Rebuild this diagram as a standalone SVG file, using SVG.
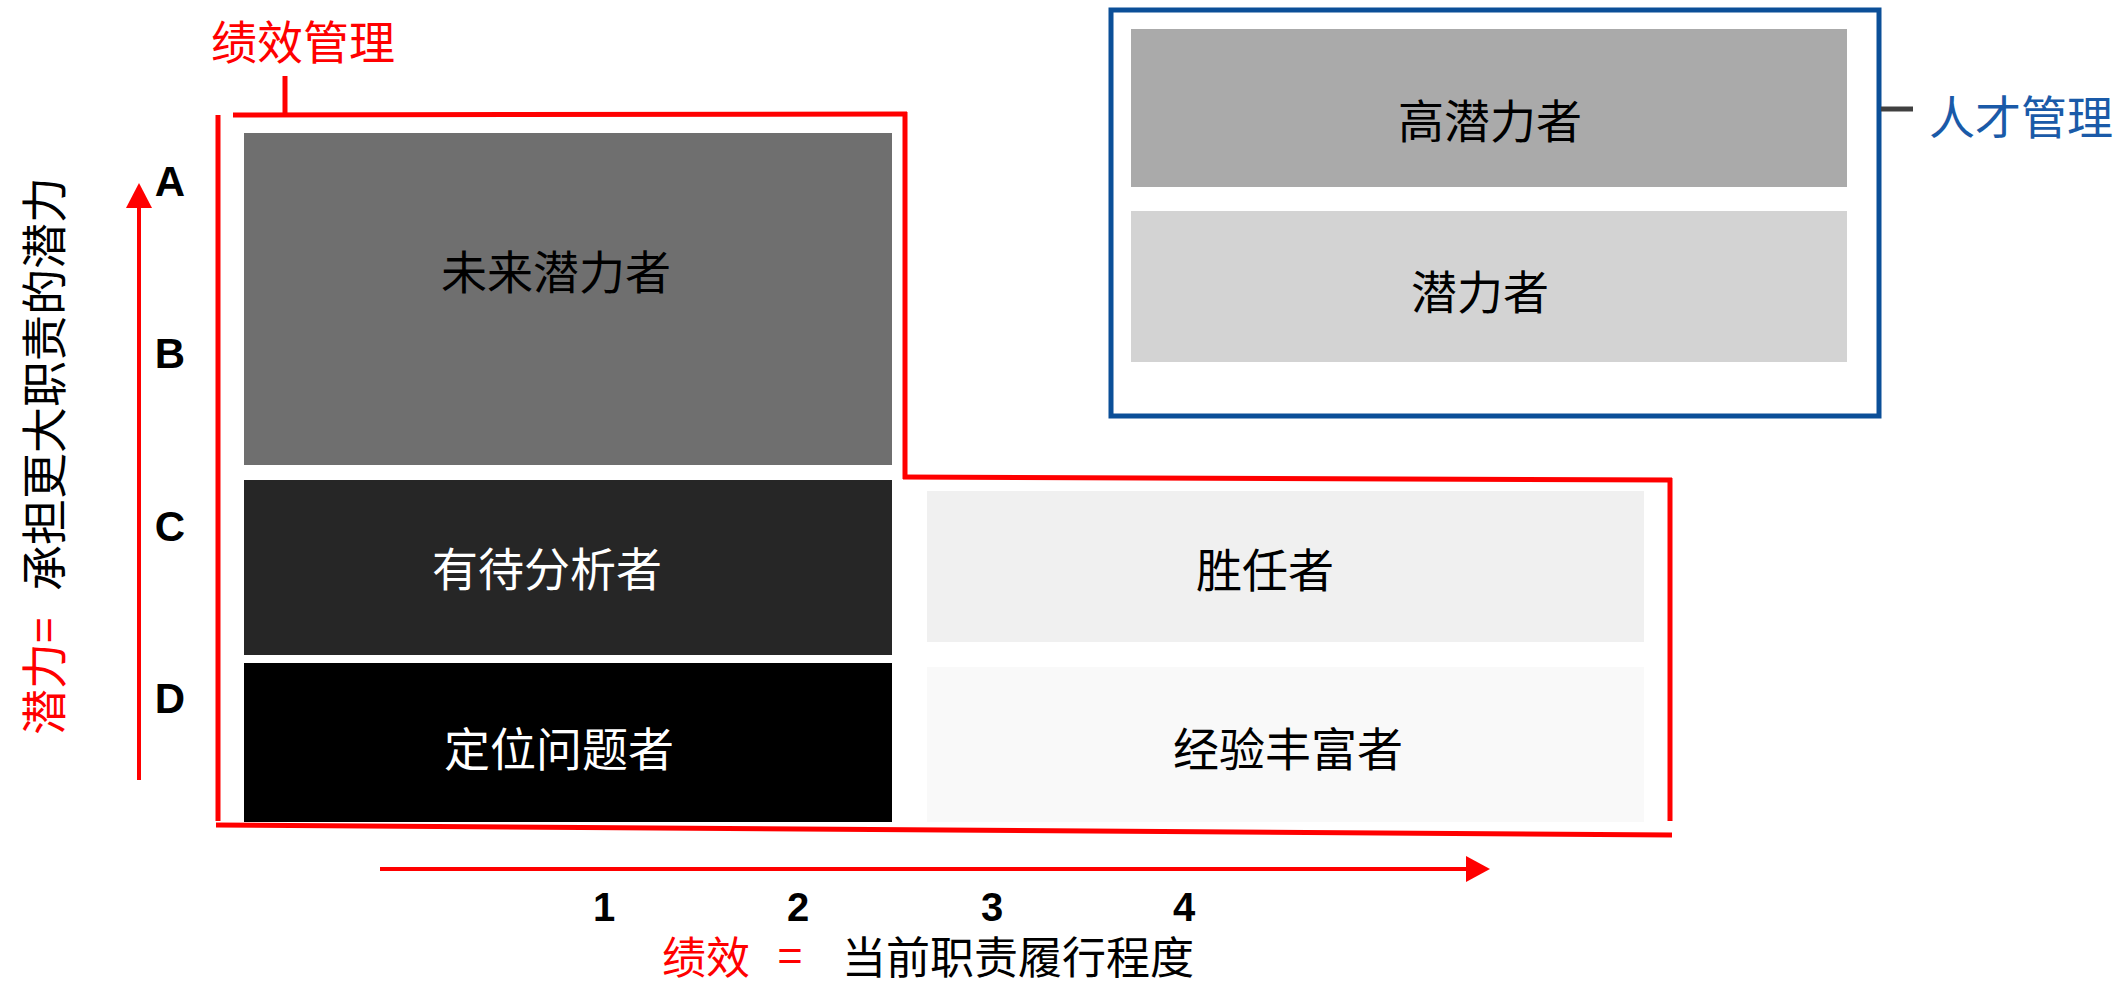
<svg xmlns="http://www.w3.org/2000/svg" width="2121" height="987" viewBox="0 0 2121 987">
<style>
.cjk{font-family:"Noto Sans CJK SC","Noto Sans",sans-serif;font-size:46px;dominant-baseline:central;text-anchor:middle}
.ax{font-size:44px}
.lbl{font-family:"Liberation Sans",Arial,sans-serif;font-weight:bold;font-size:42px;dominant-baseline:central;text-anchor:middle;fill:#000}
.num{font-size:40px}
.red{fill:#ff0000}
.blk{fill:#000}
.wht{fill:#fff}
.rl{stroke:#ff0000;stroke-width:5;fill:none}
</style>

<g id="frame-performance">
<line class="rl" x1="233" y1="115" x2="907" y2="114"/>
<line class="rl" x1="905" y1="112" x2="905" y2="479"/>
<line class="rl" x1="903" y1="477" x2="1672" y2="480"/>
<line class="rl" x1="1670" y1="478" x2="1670" y2="821"/>
<line class="rl" x1="218" y1="115" x2="218" y2="821"/>
<line class="rl" x1="216" y1="825" x2="1672" y2="835"/>
<line class="rl" x1="285" y1="76" x2="285" y2="115"/>
<text class="cjk red" x="303" y="39">绩效管理</text>
</g>

<g id="frame-talent">
<rect x="1111" y="10" width="768" height="406" fill="none" stroke="#0b4f98" stroke-width="5"/>
<line x1="1881" y1="109" x2="1913" y2="109" stroke="#404040" stroke-width="5"/>
<text class="cjk" x="2021" y="114" fill="#1a5aa8">人才管理</text>
</g>

<g id="node-future">
<rect x="244" y="133" width="648" height="332" fill="#6f6f6f"/>
<text class="cjk blk" x="556" y="269">未来潜力者</text>
</g>
<g id="node-analyze">
<rect x="244" y="480" width="648" height="175" fill="#262626"/>
<text class="cjk wht" x="547" y="566">有待分析者</text>
</g>
<g id="node-position">
<rect x="244" y="663" width="648" height="159" fill="#000000"/>
<text class="cjk wht" x="559" y="746">定位问题者</text>
</g>
<g id="node-competent">
<rect x="927" y="491" width="717" height="151" fill="#f0f0f0"/>
<text class="cjk blk" x="1265" y="567">胜任者</text>
</g>
<g id="node-experienced">
<rect x="927" y="667" width="717" height="155" fill="#f9f9f9"/>
<text class="cjk blk" x="1288" y="746">经验丰富者</text>
</g>
<g id="node-high">
<rect x="1131" y="29" width="716" height="158" fill="#aaaaaa"/>
<text class="cjk blk" x="1490" y="118">高潜力者</text>
</g>
<g id="node-potential">
<rect x="1131" y="211" width="716" height="151" fill="#d3d3d3"/>
<text class="cjk blk" x="1480" y="289">潜力者</text>
</g>

<g id="connectors">
<line x1="139" y1="780" x2="139" y2="206" stroke="#ff0000" stroke-width="4"/>
<path d="M139,183 L152,208 L126,208 Z" fill="#ff0000"/>
<line x1="380" y1="869" x2="1468" y2="869" stroke="#ff0000" stroke-width="4"/>
<path d="M1490,869 L1466,856 L1466,882 Z" fill="#ff0000"/>
</g>

<g id="axis-y">
<text class="lbl" x="170" y="181">A</text>
<text class="lbl" x="170" y="353">B</text>
<text class="lbl" x="170" y="526">C</text>
<text class="lbl" x="170" y="698">D</text>
<text class="cjk red" style="text-anchor:start" transform="translate(41,735) rotate(-90)" x="0" y="0">潜力=</text>
<text class="cjk blk" style="text-anchor:start" transform="translate(41,591) rotate(-90)" x="0" y="0">承担更大职责的潜力</text>
</g>

<g id="axis-x">
<text class="lbl num" x="604" y="907">1</text>
<text class="lbl num" x="798" y="907">2</text>
<text class="lbl num" x="992" y="907">3</text>
<text class="lbl num" x="1184" y="907">4</text>
<text class="cjk ax red" x="706" y="955">绩效</text>
<text class="cjk ax red" x="790" y="953">=</text>
<text class="cjk ax blk" x="1018" y="955">当前职责履行程度</text>
</g>
</svg>
